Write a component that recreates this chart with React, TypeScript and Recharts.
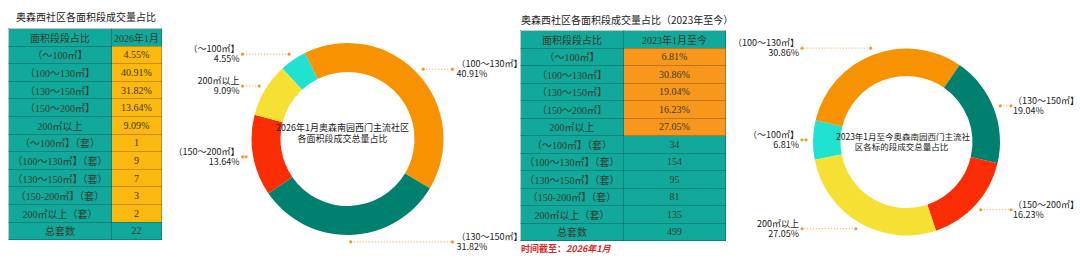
import React from 'react';
import { PieChart, Pie, Cell } from 'recharts';

// area segments, in the order they run clockwise around both donuts
const segments = ['（～100㎡】', '（100～130㎡】', '（130～150㎡】', '（150～200㎡】', '200㎡以上'];
const countRowLabels = ['（～100㎡】（套）', '（100～130㎡】（套）', '（130～150㎡】（套）', '（150-200㎡】（套）', '200㎡以上（套）'];

const pct2026 = [4.55, 40.91, 31.82, 13.64, 9.09];
const count2026 = [1, 9, 7, 3, 2];
const total2026 = 22;

const pctSince2023 = [6.81, 30.86, 19.04, 16.23, 27.05];
const countSince2023 = [34, 154, 95, 81, 135];
const totalSince2023 = 499;

const sliceColors = ['#1fe3d0', '#f79300', '#00806f', '#fa2d05', '#f6e033'];

const TEAL = '#10a99b';
const AMBER = '#fbb80f';
const ORANGE = '#f7981d';
const LEADER = '#f39a2e';

const RADIAN = Math.PI / 180;

const toData = (vals: number[]) => segments.map((name, i) => ({ name, value: vals[i] }));

const makeLabel = (reach: number, gap: number) => (props: any) => {
  const { cx, cy, midAngle, outerRadius, name, value, index } = props;
  const r = outerRadius + 7;
  const cos = Math.cos(-midAngle * RADIAN);
  const sx = cx + r * cos;
  const sy = cy + r * Math.sin(-midAngle * RADIAN);
  const right = cos >= 0;
  const ex = right ? cx + reach : cx - reach;
  const tx = right ? ex + gap : ex - 3;
  return (
    <g key={`lbl-${index}`}>
      <line x1={sx} y1={sy} x2={ex} y2={sy} stroke={LEADER} strokeWidth={1} strokeDasharray="1 2" />
      <circle cx={sx} cy={sy} r={1.6} fill={LEADER} />
      <circle cx={ex} cy={sy} r={1.6} fill={LEADER} />
      <text
        x={tx}
        textAnchor={right ? 'start' : 'end'}
        fontSize={9}
        fill="#222"
        fontFamily="'Noto Sans CJK SC', 'Noto Sans', sans-serif"
      >
        <tspan x={tx} y={sy - 2}>{name}</tspan>
        <tspan x={tx} y={sy + 8.3}>{`${Number(value).toFixed(2)}%`}</tspan>
      </text>
    </g>
  );
};

const cellBase: React.CSSProperties = {
  border: '1px solid rgba(0,0,0,0.22)',
  padding: 0,
  textAlign: 'center',
  verticalAlign: 'middle',
  whiteSpace: 'nowrap',
};

type TableProps = {
  left: number;
  top: number;
  col1: number;
  col2: number;
  rowH: number;
  header: string;
  pcts: number[];
  counts: number[];
  total: number;
  pctColor: string;
  countColor: string;
};

const AreaTable = ({ left, top, col1, col2, rowH, header, pcts, counts, total, pctColor, countColor }: TableProps) => {
  const row = (label: string, val: string | number, bg: string, key: string) => (
    <tr key={key} style={{ height: rowH }}>
      <td style={{ ...cellBase, width: col1, background: TEAL }}>{label}</td>
      <td style={{ ...cellBase, width: col2, background: bg }}>{val}</td>
    </tr>
  );
  return (
    <table
      style={{
        position: 'absolute',
        left,
        top,
        borderCollapse: 'collapse',
        tableLayout: 'fixed',
        width: col1 + col2,
        fontSize: 10,
        color: '#3a3a2a',
        fontFamily: "'Liberation Serif', 'Noto Sans CJK SC', serif",
      }}
    >
      <tbody>
        {row('面积段段占比', header, TEAL, 'h')}
        {segments.map((s, i) => row(s, `${pcts[i].toFixed(2)}%`, pctColor, `p${i}`))}
        {countRowLabels.map((s, i) => row(s, counts[i], countColor, `c${i}`))}
        {row('总套数', total, TEAL, 't')}
      </tbody>
    </table>
  );
};

const titleStyle: React.CSSProperties = {
  position: 'absolute',
  fontSize: 10,
  color: '#222',
  fontFamily: "'Noto Sans CJK SC', sans-serif",
  whiteSpace: 'nowrap',
  lineHeight: '12px',
};

const centerStyle: React.CSSProperties = {
  position: 'absolute',
  textAlign: 'center',
  color: '#222',
  fontFamily: "'Noto Sans CJK SC', sans-serif",
  whiteSpace: 'nowrap',
};

export default function App() {
  return (
    <div style={{ position: 'absolute', left: 0, top: 0, width: 1080, height: 260, background: '#fff', overflow: 'hidden' }}>
      <PieChart width={1080} height={260} style={{ position: 'absolute', left: 0, top: 0 }}>
        <Pie
          data={toData(pct2026)}
          dataKey="value"
          nameKey="name"
          cx={342.5}
          cy={134}
          innerRadius={67}
          outerRadius={96}
          startAngle={132.7}
          endAngle={-227.3}
          stroke="none"
          label={makeLabel(105, 4)}
          labelLine={false}
          isAnimationActive={false}
        >
          {segments.map((s, i) => (
            <Cell key={s} fill={sliceColors[i]} />
          ))}
        </Pie>
        <Pie
          data={toData(pctSince2023)}
          dataKey="value"
          nameKey="name"
          cx={901.5}
          cy={137}
          innerRadius={66}
          outerRadius={93.5}
          startAngle={191}
          endAngle={-169}
          stroke="none"
          label={makeLabel(104.5, 2)}
          labelLine={false}
          isAnimationActive={false}
        >
          {segments.map((s, i) => (
            <Cell key={s} fill={sliceColors[i]} />
          ))}
        </Pie>
      </PieChart>

      <div style={{ ...titleStyle, left: 16, top: 11 }}>奥森西社区各面积段成交量占比</div>
      <AreaTable
        left={8}
        top={28}
        col1={102}
        col2={49}
        rowH={17.6}
        header="2026年1月"
        pcts={pct2026}
        counts={count2026}
        total={total2026}
        pctColor={AMBER}
        countColor={AMBER}
      />

      <div style={{ ...titleStyle, left: 521, top: 14 }}>奥森西社区各面积段成交量占比（2023年至今）</div>
      <AreaTable
        left={520}
        top={30}
        col1={102}
        col2={101}
        rowH={17.5}
        header="2023年1月至今"
        pcts={pctSince2023}
        counts={countSince2023}
        total={totalSince2023}
        pctColor={ORANGE}
        countColor={TEAL}
      />
      <div
        style={{
          position: 'absolute',
          left: 521,
          top: 242,
          fontSize: 9,
          fontWeight: 700,
          color: '#d9261c',
          fontFamily: "'Noto Sans CJK SC', sans-serif",
          whiteSpace: 'nowrap',
        }}
      >
        时间截至：<i>2026年1月</i>
      </div>

      <div style={{ ...centerStyle, left: 272, top: 122, width: 141, fontSize: 9, lineHeight: '11px' }}>
        2026年1月奥森南园西门主流社区
        <br />
        各面积段成交总量占比
      </div>
      <div style={{ ...centerStyle, left: 836, top: 131, width: 131, fontSize: 8.5, lineHeight: '10px' }}>
        2023年1月至今奥森南园西门主流社
        <br />
        区各标的段成交总量占比
      </div>
    </div>
  );
}
